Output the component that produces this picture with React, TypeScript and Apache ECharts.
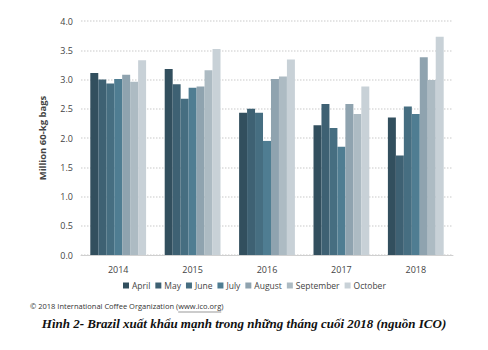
import React, { useEffect, useRef } from "react";
import * as echarts from "echarts";

const years = ["2014", "2015", "2016", "2017", "2018"];
const months = ["April", "May", "June", "July", "August", "September", "October"];
const april = [3.11, 3.18, 2.43, 2.22, 2.35];
const may = [3.0, 2.92, 2.5, 2.58, 1.7];
const june = [2.93, 2.67, 2.43, 2.17, 2.54];
const july = [3.01, 2.86, 1.95, 1.85, 2.41];
const august = [3.08, 2.88, 3.01, 2.58, 3.38];
const september = [2.96, 3.16, 3.05, 2.41, 2.99];
const october = [3.33, 3.52, 3.34, 2.88, 3.73];
const seriesValues = [april, may, june, july, august, september, october];
const colors = ["#324f5e", "#3e6173", "#466e81", "#4f7d92", "#8fa3af", "#adbbc3", "#c8d1d7"];
const yTicks = [0, 0.5, 1, 1.5, 2, 2.5, 3, 3.5, 4];

const COPY_PREFIX = "© 2018 International Coffee Organization (";
const COPY_LINK = "www.ico.org";
const COPY_FONT = 7.5;

function measure(text: string, size: number, family: string): number {
  const c = document.createElement("canvas").getContext("2d");
  if (!c) return text.length * size * 0.5;
  c.font = `${size}px "${family}"`;
  return c.measureText(text).width;
}

export default function App() {
  const ref = useRef<HTMLDivElement>(null);
  useEffect(() => {
    if (!ref.current) return;
    const chart = echarts.init(ref.current, null, { renderer: "svg" });
    const copyX = 30;
    const x1 = copyX + measure(COPY_PREFIX, COPY_FONT, "Open Sans");
    const x2 = x1 + measure(COPY_LINK, COPY_FONT, "Open Sans");
    chart.setOption({
      animation: false,
      backgroundColor: "#ffffff",
      textStyle: { fontFamily: "Open Sans" },
      grid: { left: 81, right: 35, top: 21, bottom: 95 },
      legend: {
        data: months,
        top: 276,
        left: 118,
        itemWidth: 6,
        itemHeight: 6,
        itemGap: 5,
        icon: "rect",
        textStyle: { fontSize: 8.5, color: "#444", padding: [0, 0, 0, -2] },
      },
      xAxis: {
        type: "category",
        data: years,
        axisLine: { lineStyle: { color: "#d0d0d0" } },
        axisTick: { show: false },
        axisLabel: { fontSize: 9, color: "#444", margin: 10 },
      },
      yAxis: {
        type: "value",
        min: 0,
        max: 4,
        interval: 0.5,
        name: "Million 60-kg bags",
        nameLocation: "middle",
        nameGap: 34,
        nameTextStyle: { fontSize: 9.5, fontWeight: "bold", color: "#444" },
        axisLabel: {
          fontSize: 9,
          color: "#444",
          margin: 8,
          formatter: (v: number) => (yTicks.includes(v) ? v.toFixed(1) : ""),
        },
        splitLine: { lineStyle: { color: "#dcdcdc", type: "dotted", width: 1.5 } },
      },
      series: months.map((m, i) => ({
        name: m,
        type: "bar",
        data: seriesValues[i],
        barGap: "0%",
        barCategoryGap: "25%",
        itemStyle: { color: colors[i] },
      })),
      graphic: [
        {
          type: "text",
          left: copyX,
          top: 302,
          style: {
            text: COPY_PREFIX + COPY_LINK + ")",
            fontSize: COPY_FONT,
            fill: "#333",
            fontFamily: "Open Sans",
          },
        },
        {
          type: "line",
          shape: { x1, y1: 312, x2, y2: 312 },
          style: { stroke: "#555", lineWidth: 0.6 },
        },
        {
          type: "text",
          left: "center",
          top: 317,
          style: {
            text: "Hình 2- Brazil xuất khẩu mạnh trong những tháng cuối 2018 (nguồn ICO)",
            fontSize: 13,
            fontWeight: "bold",
            fontStyle: "italic",
            fill: "#111",
            fontFamily: "Liberation Serif",
          },
        },
      ],
    });
    return () => chart.dispose();
  }, []);
  return (
    <div
      ref={ref}
      style={{ position: "fixed", left: 0, top: 0, width: 488, height: 350 }}
    />
  );
}
